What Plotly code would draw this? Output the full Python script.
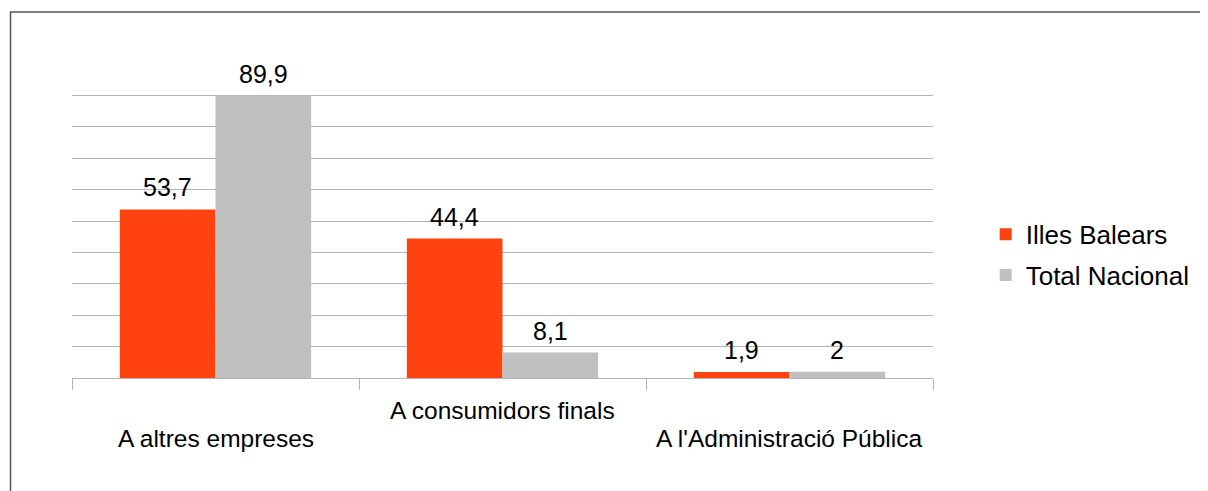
import plotly.graph_objects as go

categories = ["A altres empreses", "A consumidors finals", "A l'Administració Pública"]
illes_balears = [53.7, 44.4, 1.9]
total_nacional = [89.9, 8.1, 2.0]
series_names = ["Illes Balears", "Total Nacional"]
colors = ["#ff420e", "#c0c0c0"]

FONT = "Liberation Sans, Arial, sans-serif"
OFF = 8  # page body margin
W, H = 1208 - OFF, 491 - OFF
# target screen coordinates of the plot area
PX0, PX1, PY0, PY1 = 72, 933.3, 64, 378.3
ML, MR, MT, MB = PX0 - OFF, W - (PX1 - OFF), PY0 - OFF, H - (PY1 - OFF)
BARGAP = 1 / 3

def fmt(v):
    s = ("%.1f" % v).rstrip("0").rstrip(".")
    return s.replace(".", ",")

fig = go.Figure()
for name, vals, col, grp in zip(series_names, [illes_balears, total_nacional], colors, ["g1", "g2"]):
    fig.add_trace(go.Bar(name=name, x=categories, y=vals, marker=dict(color=col, line=dict(width=0)),
                         legendgroup=grp))

plot_h = PY1 - PY0
plot_w = PX1 - PX0

def py(screen_y):
    return (PY1 - screen_y) / plot_h

def pxx(screen_x):
    return (screen_x - PX0) / plot_w

annotations = []
half = (1 - BARGAP) / 2
for si, vals in enumerate([illes_balears, total_nacional]):
    off = -half / 2 if si == 0 else half / 2
    for ci, v in enumerate(vals):
        annotations.append(dict(x=ci + off, y=v, xref="x", yref="y", text=fmt(v), showarrow=False,
                                yanchor="middle", yshift=22,
                                font=dict(family=FONT, size=25, color="#000000")))
for ci, cat in enumerate(categories):
    ypx = 438.7 if ci % 2 == 0 else 411.3
    annotations.append(dict(x=ci, y=py(ypx), xref="x", yref="paper", text=cat,
                            showarrow=False, yanchor="middle",
                            font=dict(family=FONT, size=24.5, color="#000000")))

fig.update_layout(
    width=W, height=H,
    margin=dict(l=ML, r=MR, t=MT, b=MB, pad=0),
    paper_bgcolor="white", plot_bgcolor="white",
    barmode="group", bargap=BARGAP, bargroupgap=0,
    font=dict(family=FONT, size=24, color="#000000"),
    xaxis=dict(type="category", showticklabels=False, ticks="outside", tickson="boundaries",
               ticklen=11, tickcolor="#b3b3b3", tickwidth=1, showline=True, linecolor="#b3b3b3",
               linewidth=1, showgrid=False, range=[-0.5, 2.5]),
    yaxis=dict(range=[0, 100], dtick=10, showticklabels=False, showgrid=True, gridcolor="#b3b3b3",
               gridwidth=1, zeroline=False, showline=False, ticks=""),
    legend=dict(x=pxx(986), xanchor="left", y=py(255), yanchor="middle",
                font=dict(family=FONT, size=26, color="#000000"), tracegroupgap=4,
                bgcolor="rgba(0,0,0,0)", borderwidth=0),
    annotations=annotations,
    shapes=[dict(type="rect", xref="paper", yref="paper",
                 x0=pxx(10.5), x1=pxx(1240),
                 y0=py(560), y1=py(12),
                 line=dict(color="#555555", width=1.5), fillcolor="rgba(0,0,0,0)", layer="above")],
)

fig.write_html("out.html")
